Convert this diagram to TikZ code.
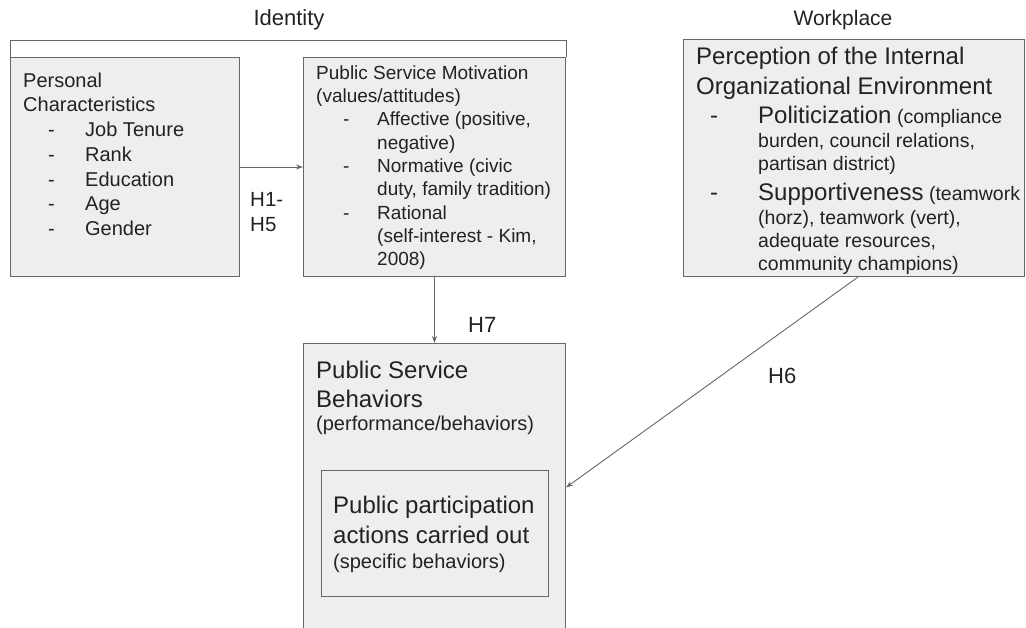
\documentclass[tikz,border=0pt]{standalone}
\usepackage{fontspec}
\setmainfont{Liberation Sans}
\usetikzlibrary{arrows.meta}
\definecolor{boxfill}{HTML}{EEEEEE}
\definecolor{boxline}{HTML}{666666}
\definecolor{txt}{HTML}{222222}
\newcommand\itemL[1]{\hspace*{25pt}\makebox[37pt][l]{-}#1}
\newcommand\contL[1]{\hspace*{62pt}#1}
\newcommand\itemM[1]{\hspace*{27pt}\makebox[34pt][l]{-}#1}
\newcommand\contM[1]{\hspace*{61pt}#1}
\newcommand\itemR[1]{\hspace*{14pt}\makebox[48pt][l]{\fontsize{24}{28}\selectfont -}#1}
\newcommand\contR[1]{\hspace*{62pt}#1}
\newcommand\bigR[1]{{\fontsize{24}{28}\selectfont #1}}
\begin{document}
\begin{tikzpicture}[x=1pt,y=-1pt,
  box/.style={draw=boxline, fill=boxfill, line width=1pt, inner sep=0pt, anchor=north west},
  lbl/.style={text=txt, inner sep=0pt, anchor=base west},
  conn/.style={draw=boxline, line width=0.9pt, -{Stealth[length=7pt,width=5pt]}}]
\useasboundingbox (0,0) rectangle (1026,628);
% boxes
\node[box, minimum width=229pt, minimum height=219pt] (pc) at (10,57) {};
\node[box, minimum width=262pt, minimum height=219pt] (psm) at (303,57) {};
\node[box, minimum width=341pt, minimum height=237pt] (pie) at (683,39) {};
\begin{scope}
\clip (0,0) rectangle (1026,628);
\node[box, minimum width=262pt, minimum height=288pt] (psb) at (303,343) {};
\end{scope}
\node[box, minimum width=227pt, minimum height=126pt] (ppa) at (321,470) {};
% identity bracket
\draw[boxline, line width=1pt] (pc.north west) -- ++(0,-16) -| (psm.north east);
% headings
\node[text=txt, inner sep=0pt, anchor=base, font=\fontsize{22}{26}\selectfont] (identity) at (289,26) {Identity};
\node[text=txt, inner sep=0pt, anchor=base, font=\fontsize{21}{26}\selectfont] (workplace) at (843,26) {Workplace};
% texts
\node[lbl, font=\fontsize{20}{24.7}\selectfont] (pctext) at (23,87.3) {\begin{tabular}[t]{@{}l@{}}
Personal\\
Characteristics\\
\itemL{Job Tenure}\\
\itemL{Rank}\\
\itemL{Education}\\
\itemL{Age}\\
\itemL{Gender}
\end{tabular}};
\node[lbl, font=\fontsize{19}{23.33}\selectfont] (psmtext) at (316,79.3) {\begin{tabular}[t]{@{}l@{}}
Public Service Motivation\\
(values/attitudes)\\
\itemM{Affective (positive,}\\
\contM{negative)}\\
\itemM{Normative (civic}\\
\contM{duty, family tradition)}\\
\itemM{Rational}\\
\contM{(self-interest - Kim,}\\
\contM{2008)}
\end{tabular}};
\node[lbl, font=\fontsize{19.5}{23.3}\selectfont] (pietext) at (696,65) {\begin{tabular}[t]{@{}l@{}}
\bigR{Perception of the Internal}\\[5pt]
\bigR{Organizational Environment}\\[5pt]
\itemR{\bigR{Politicization} (compliance}\\
\contR{burden, council relations,}\\
\contR{partisan district)}\\[6pt]
\itemR{\bigR{Supportiveness} (teamwork}\\
\contR{(horz), teamwork (vert),}\\
\contR{adequate resources,}\\
\contR{community champions)}
\end{tabular}};
\node[lbl, font=\fontsize{20}{23.3}\selectfont] (psbtext) at (316,379) {\begin{tabular}[t]{@{}l@{}}
\bigR{Public Service}\\[4pt]
\bigR{Behaviors}\\
(performance/behaviors)
\end{tabular}};
\node[lbl, font=\fontsize{20}{25}\selectfont] (ppatext) at (333,513) {\begin{tabular}[t]{@{}l@{}}
\bigR{Public participation}\\[5pt]
\bigR{actions carried out}\\
(specific behaviors)
\end{tabular}};
% hypothesis labels
\node[lbl, font=\fontsize{20.5}{25}\selectfont] (h15) at (250,207) {\begin{tabular}[t]{@{}l@{}}H1-\\H5\end{tabular}};
\node[lbl, font=\fontsize{22}{26}\selectfont] (h7) at (468,333) {H7};
\node[lbl, font=\fontsize{22}{26}\selectfont] (h6) at (768,384) {H6};
% connectors
\draw[conn] (pc.east) -- (psm.west);
\draw[conn] (psm.south) -- (psb.north);
\draw[conn] ([xshift=4pt]pie.south) -- (psb.east);
\end{tikzpicture}
\end{document}
